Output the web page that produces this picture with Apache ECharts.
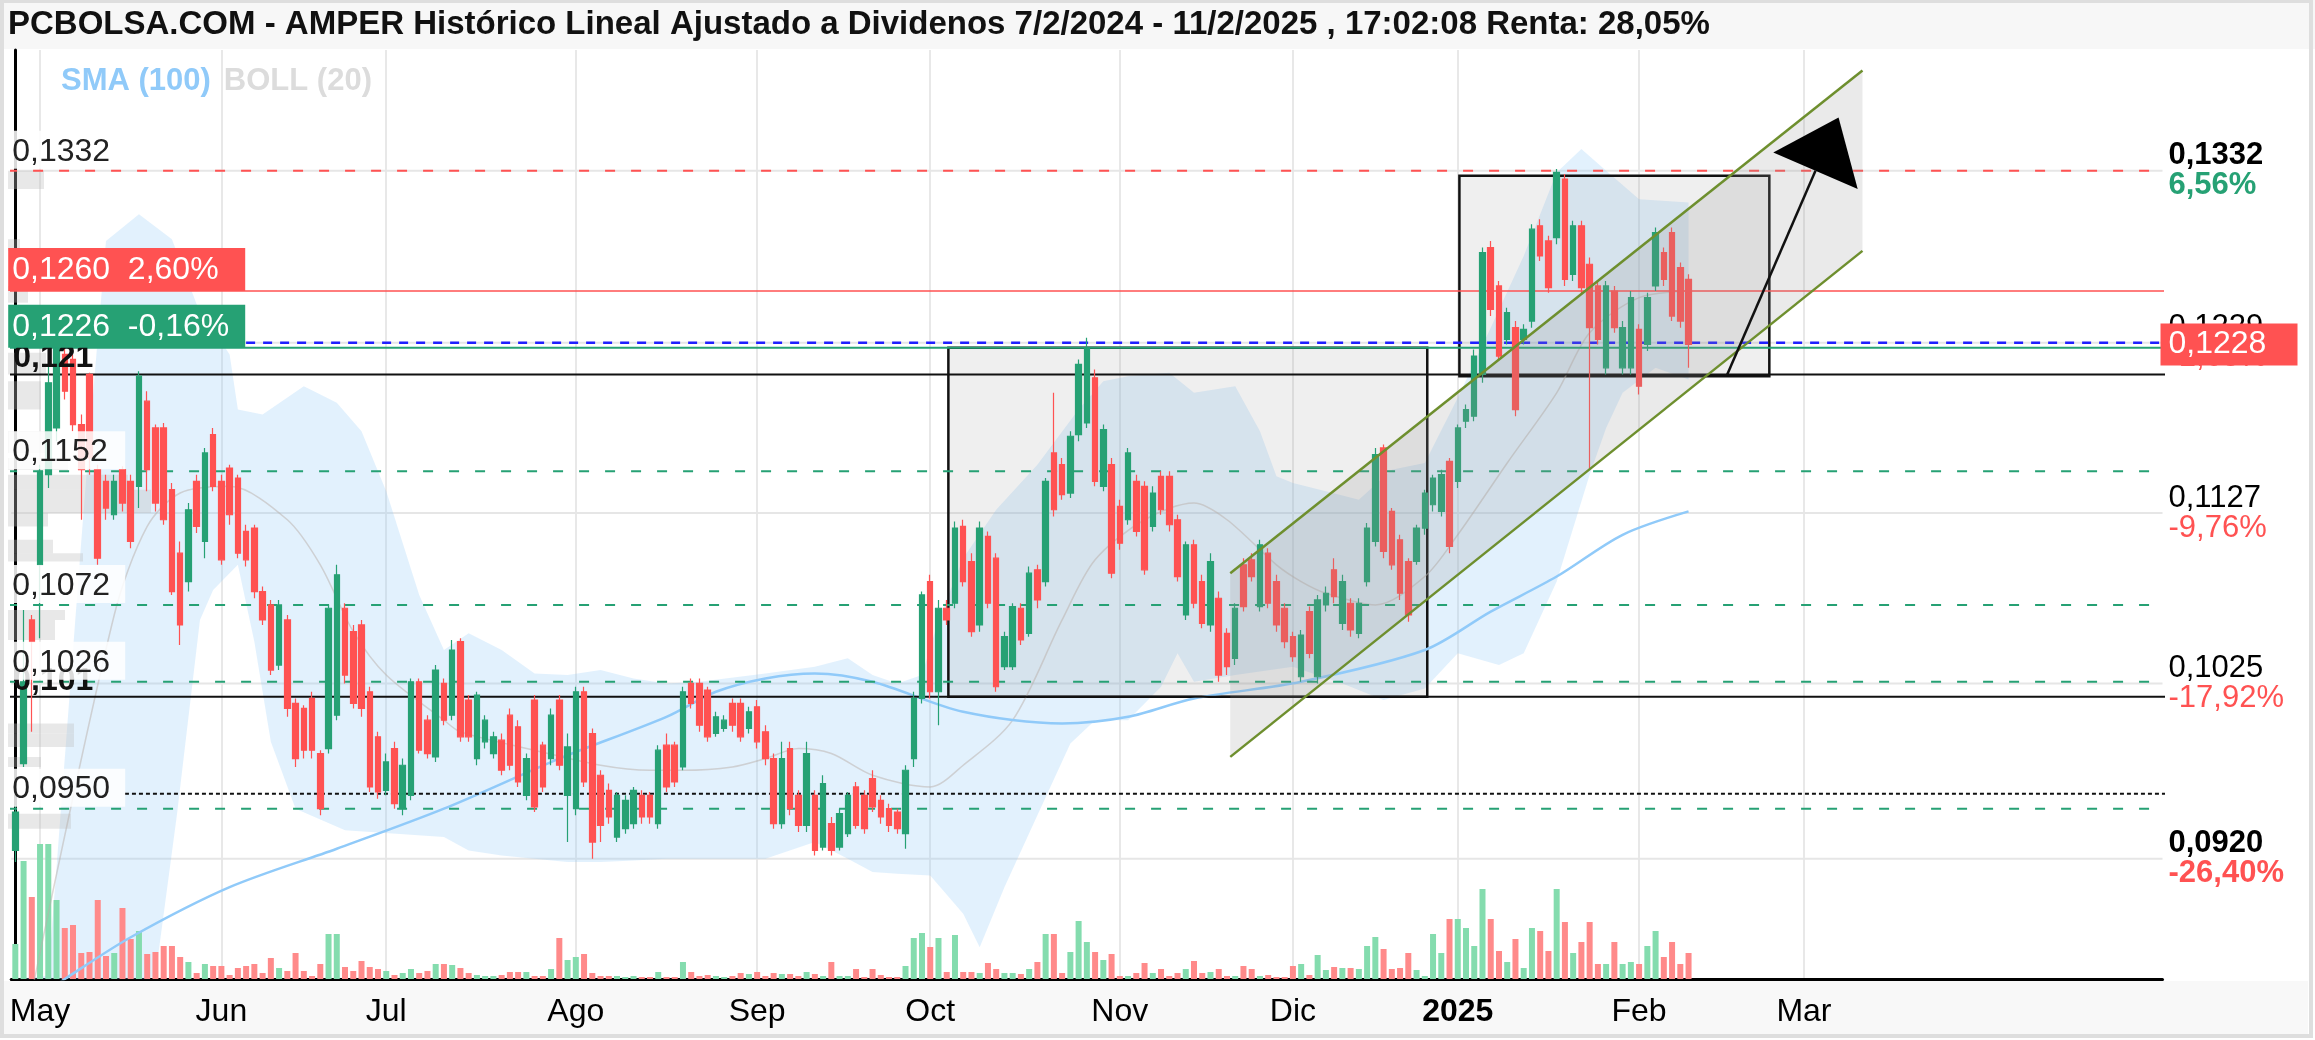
<!DOCTYPE html>
<html>
<head>
<meta charset="utf-8">
<script src="https://cdn.jsdelivr.net/npm/echarts@6/dist/echarts.min.js"></script>
<style>
  html, body { margin: 0; padding: 0; background: #fff; }
  #grafico { width: 2315px; height: 1040px; }
</style>
</head>
<body>
<div id="grafico"></div>
<script>
// sesiones: desde 26/4/2024, dias habiles de la bolsa espanola
const INICIO = '2024-04-26';
const N_SESIONES = 261;
const ULTIMO_MES = '2025-03';
const FESTIVOS = ['2024-05-01', '2024-12-25', '2024-12-26', '2025-01-01', '2025-04-18', '2025-04-21', '2025-05-01'];
const MESES = ['Ene', 'Feb', 'Mar', 'Abr', 'May', 'Jun', 'Jul', 'Ago', 'Sep', 'Oct', 'Nov', 'Dic'];

// velas (apertura, cierre, minimo, maximo)
const apertura = [
  .0925,.0977,.1063,.1096,.1150,.1178,.1222,.1219,.1180,.1210,
  .1153,.1146,.1126,.1153,.1146,.1143,.1194,.1178,.1178,.1141,
  .1103,.1086,.1146,.1110,.1174,.1146,.1154,.1148,.1116,.1118,
  .1080,.1072,.1036,.1063,.1013,.1010,.1016,.0983,.0986,.1006,
  .1070,.1056,.1060,.1020,.0993,.0961,.0986,.0950,.0958,.1026,
  .1003,.0981,.1025,.1006,.1050,.1015,.0980,.0990,.0983,.0991,
  .1006,.0999,.0958,.1015,.0988,.0980,.1015,.0958,.0950,.1020,
  .0995,.0970,.0961,.0933,.0938,.0941,.0958,.0958,.0941,.0988,
  .0988,.0975,.1025,.1025,.1021,.0995,.0998,.1013,.1013,.0998,
  .1011,.0996,.0980,.0941,.0986,.0958,.0940,.0958,.0927,.0941,
  .0927,.0935,.0963,.0958,.0968,.0955,.0950,.0948,.0935,.0980,
  .1016,.1086,.1020,.1070,.1073,.1119,.1098,.1060,.1113,.1100,
  .1035,.1035,.1070,.1055,.1093,.1086,.1163,.1156,.1139,.1174,
  .1181,.1208,.1143,.1156,.1131,.1123,.1146,.1143,.1119,.1149,
  .1149,.1123,.1066,.1108,.1086,.1060,.1076,.1055,.1040,.1096,
  .1099,.1071,.1103,.1086,.1070,.1053,.1029,.1068,.1029,.1072,
  .1093,.1061,.1073,.1055,.1086,.1110,.1166,.1128,.1111,.1098,
  .1098,.1118,.1132,.1128,.1158,.1146,.1182,.1185,.1210,.1286,
  .1263,.1231,.1238,.1231,.1242,.1299,.1290,.1292,.1327,.1270,
  .1299,.1276,.1263,.1214,.1260,.1214,.1214,.1237,.1228,.1263,
  .1283,.1295,.1274,.1267
];
const cierre = [
  .0948,.1026,.1050,.1152,.1205,.1226,.1200,.1180,.1153,.1160,
  .1100,.1130,.1146,.1133,.1110,.1209,.1153,.1133,.1123,.1080,
  .1060,.1129,.1119,.1163,.1143,.1099,.1126,.1103,.1099,.1080,
  .1063,.1033,.1072,.1010,.0980,.0985,.0985,.0950,.1070,.1090,
  .1030,.1013,.1010,.0963,.0960,.0978,.0953,.0976,.1026,.0985,
  .0983,.1033,.1003,.1045,.0993,.0993,.1018,.1003,.0993,.0973,
  .0976,.0966,.0980,.0951,.0963,.1006,.0976,.0987,.1020,.0966,
  .0930,.0940,.0945,.0958,.0955,.0961,.0945,.0945,.0985,.0963,
  .0966,.1020,.1013,.1000,.0993,.1005,.1003,.1000,.0993,.1008,
  .0990,.0980,.0941,.0980,.0950,.0940,.0983,.0925,.0965,.0925,
  .0947,.0958,.0940,.0938,.0951,.0945,.0940,.0938,.0973,.1016,
  .1078,.1020,.1070,.1063,.1118,.1086,.1056,.1118,.1073,.1023,
  .1053,.1071,.1051,.1091,.1075,.1146,.1129,.1138,.1173,.1216,
  .1226,.1146,.1177,.1091,.1109,.1163,.1116,.1093,.1139,.1129,
  .1120,.1089,.1108,.1073,.1061,.1098,.1030,.1035,.1070,.1071,
  .1089,.1108,.1073,.1060,.1050,.1041,.1054,.1043,.1075,.1079,
  .1077,.1086,.1057,.1073,.1118,.1162,.1104,.1096,.1079,.1066,
  .1118,.1139,.1148,.1150,.1107,.1178,.1189,.1221,.1283,.1249,
  .1221,.1247,.1189,.1237,.1297,.1281,.1262,.1331,.1267,.1299,
  .1262,.1238,.1231,.1263,.1238,.1238,.1256,.1203,.1256,.1295,
  .1267,.1245,.1242,.1228
];
const minimo = [
  .0918,.0975,.0996,.1052,.1142,.1170,.1195,.1176,.1123,.1150,
  .1096,.1123,.1123,.1128,.1106,.1130,.1140,.1128,.1120,.1078,
  .1048,.1080,.1115,.1100,.1140,.1096,.1120,.1100,.1095,.1076,
  .1060,.1030,.1033,.1005,.0975,.0980,.0980,.0946,.0983,.1003,
  .1025,.1010,.1005,.0960,.0956,.0958,.0950,.0946,.0955,.0983,
  .0980,.0978,.1000,.1003,.0990,.0990,.0976,.0986,.0980,.0970,
  .0973,.0963,.0955,.0948,.0960,.0976,.0973,.0930,.0946,.0963,
  .0920,.0930,.0941,.0930,.0935,.0938,.0941,.0941,.0938,.0960,
  .0963,.0973,.1010,.0996,.0990,.0993,.0996,.0996,.0990,.0995,
  .0986,.0976,.0938,.0938,.0946,.0936,.0936,.0922,.0925,.0922,
  .0925,.0933,.0938,.0935,.0948,.0941,.0936,.0935,.0926,.0975,
  .1013,.1016,.1000,.1060,.1070,.1083,.1053,.1056,.1070,.1020,
  .1033,.1033,.1048,.1053,.1070,.1083,.1125,.1135,.1136,.1170,
  .1178,.1143,.1140,.1088,.1105,.1120,.1113,.1090,.1116,.1126,
  .1116,.1086,.1063,.1070,.1058,.1056,.1026,.1030,.1036,.1068,
  .1086,.1068,.1070,.1056,.1046,.1038,.1026,.1040,.1025,.1068,
  .1073,.1057,.1053,.1052,.1083,.1107,.1100,.1093,.1075,.1062,
  .1096,.1114,.1128,.1125,.1103,.1142,.1178,.1182,.1205,.1245,
  .1218,.1228,.1185,.1228,.1238,.1278,.1259,.1288,.1263,.1266,
  .1258,.1153,.1228,.1210,.1235,.1210,.1210,.1198,.1224,.1260,
  .1263,.1242,.1238,.1214
];
const maximo = [
  .0952,.1069,.1066,.1156,.1215,.1228,.1228,.1222,.1186,.1211,
  .1156,.1150,.1150,.1155,.1150,.1212,.1200,.1180,.1181,.1145,
  .1110,.1133,.1150,.1166,.1178,.1150,.1156,.1150,.1120,.1120,
  .1083,.1075,.1075,.1066,.1016,.1012,.1020,.0985,.1072,.1096,
  .1073,.1060,.1063,.1023,.0996,.0983,.0990,.0980,.1028,.1028,
  .1006,.1036,.1028,.1051,.1052,.1018,.1020,.1006,.0996,.0995,
  .1010,.1003,.0983,.1018,.0990,.1010,.1018,.0995,.1023,.1023,
  .0998,.0973,.0965,.0960,.0958,.0963,.0961,.0960,.0988,.0995,
  .0990,.1023,.1028,.1028,.1023,.1008,.1006,.1016,.1016,.1011,
  .1015,.1000,.0983,.0990,.0990,.0961,.0990,.0961,.0970,.0945,
  .0950,.0960,.0966,.0961,.0973,.0958,.0953,.0950,.0976,.1020,
  .1080,.1090,.1075,.1075,.1122,.1123,.1103,.1122,.1116,.1103,
  .1056,.1073,.1073,.1095,.1096,.1148,.1199,.1160,.1176,.1219,
  .1232,.1213,.1180,.1160,.1135,.1166,.1150,.1146,.1143,.1152,
  .1152,.1126,.1110,.1111,.1090,.1103,.1080,.1058,.1073,.1100,
  .1103,.1111,.1106,.1090,.1073,.1056,.1057,.1071,.1078,.1083,
  .1100,.1090,.1076,.1076,.1121,.1166,.1168,.1130,.1114,.1100,
  .1120,.1141,.1150,.1153,.1160,.1180,.1192,.1225,.1286,.1290,
  .1266,.1250,.1242,.1240,.1300,.1303,.1293,.1333,.1330,.1302,
  .1302,.1280,.1266,.1266,.1263,.1242,.1260,.1240,.1259,.1298,
  .1286,.1298,.1277,.1270
];
// volumen (miles de titulos, estimado)
const volumen = [
  350,1180,820,1350,1350,790,510,540,260,270,
  790,230,260,710,400,480,250,270,330,330,
  220,170,60,150,130,130,40,110,130,150,
  60,210,110,80,260,80,30,150,450,450,
  120,80,180,120,100,80,40,60,100,60,
  80,150,150,140,110,60,40,30,30,40,
  70,70,70,30,30,100,410,190,220,250,
  60,30,30,30,20,30,20,20,70,20,
  20,170,70,30,40,30,20,30,60,50,
  70,30,60,50,50,30,70,50,30,170,
  30,30,100,20,100,40,20,20,130,410,
  460,320,410,70,440,70,70,60,160,100,
  60,60,50,100,170,450,450,60,270,580,
  370,270,190,250,30,30,60,160,60,100,
  30,60,100,180,60,70,100,30,30,130,
  100,30,40,20,20,130,150,40,240,90,
  120,110,110,100,330,420,300,100,110,260,
  90,30,450,260,600,600,510,330,900,600,
  280,170,400,110,510,480,280,900,570,260,
  370,570,150,150,370,150,170,150,330,480,
  220,370,150,260
];

// bandas de Bollinger (20) y media (100): [sesion, valor]
const bollSup = [[0,.0790],[4,.0850],[6,.0980],[8,.1110],[9,.1173],[11,.1290],[15,.1306],[19,.1291],[22,.1252],[26,.1222],[27,.1189],[30,.1186],[35,.1203],[39,.1193],[42,.1176],[45,.1140],[49,.1078],[52,.1045],[55,.1055],[59,.1045],[63,.1031],[67,.1030],[71,.1033],[75,.1028],[79,.1025],[83,.1026],[91,.1031],[97,.1035],[101,.1040],[104,.1030],[107,.1025],[110,.1030],[112,.1063],[115,.1100],[119,.1129],[124,.1156],[129,.1189],[132,.1206],[135,.1209],[140,.1211],[143,.1199],[148,.1203],[151,.1176],[153,.1149],[155,.1145],[159,.1140],[163,.1135],[167,.1153],[171,.1157],[175,.1196],[179,.1238],[183,.1281],[187,.1331],[190,.1345],[193,.1332],[197,.1315],[203,.1313]];
const bollInf = [[0,.0760],[16,.0830],[17,.0850],[19.6,.0946],[22.4,.1063],[24,.1081],[27,.1096],[29,.1050],[31,.0990],[34,.0950],[40,.0937],[52,.0933],[55,.0925],[59,.0922],[63,.0920],[67,.0918],[71,.0918],[75,.0919],[79,.0920],[83,.0920],[91,.0920],[97,.0930],[101,.0920],[104,.0912],[107,.0911],[111,.0910],[115,.0887],[117,.0867],[120,.0903],[124,.0946],[128,.0989],[131,.1003],[135,.1003],[139,.1023],[141,.1043],[143,.1026],[148,.1030],[155,.1035],[161,.1025],[166,.1015],[171,.1022],[175,.1043],[180,.1036],[183,.1043],[187,.1086],[191,.1150],[193,.1178],[195,.1199],[199,.1214],[203,.1207]];
const bollMed = [[2,.0840],[12,.1066],[16,.1119],[20,.1139],[26,.1143],[33,.1123],[37,.1096],[41,.1056],[45,.1030],[52,.1003],[54,.0996],[63,.0985],[71,.0976],[77,.0973],[81,.0973],[87,.0975],[91,.0980],[95,.0986],[99,.0983],[104,.0970],[111,.0963],[115,.0976],[121,.1003],[127,.1063],[131,.1099],[137,.1123],[143,.1133],[147,.1123],[153,.1096],[156,.1086],[159,.1079],[165,.1072],[171,.1089],[175,.1114],[181,.1157],[187,.1199],[191,.1235],[197,.1256],[203,.1260]];
const sma100 = [[3,.0838],[6,.0848],[14,.0873],[26,.0903],[39,.0926],[52,.0950],[66,.0980],[79,.1005],[85,.1020],[91,.1028],[97,.1031],[104,.1026],[115,.1008],[127,.1001],[135,.1005],[143,.1016],[156,.1026],[171,.1045],[179,.1068],[187,.1089],[195,.1114],[203,.1128]];

// niveles horizontales
const nivelMax = 0.1332, nivelObjetivo = 0.1260, nivelAzul = 0.1229, nivelSoporte = 0.1226;
const techoRango = 0.1210, sueloRango = 0.1017, nivelPunteado = 0.0959;
const nivelesVerdes = [0.1152, 0.1072, 0.1026, 0.0950];

// eje de precios (derecha)
const ejeValores = [0.1332, 0.1229, 0.1127, 0.1025, 0.0920];
const ejePct = ['6,56%', '-1,68%', '-9,76%', '-17,92%', '-26,40%'];

// perfil de volumen: [desde, hasta, volumen]
const perfilDesde = [.1321,.1284,.1253,.1210,.1189,.1163,.1153,.1141,.1127,.1119,.1103,.1098,.1063,.1051,.0995,.0987,.0975,.0938];
const perfilHasta = [.1332,.1291,.1263,.1223,.1206,.1176,.1160,.1150,.1141,.1127,.1111,.1103,.1069,.1063,.1001,.0995,.0981,.0947];
const perfilVol   = [36,12,20,38,33,38,60,120,143,40,45,75,57,47,66,66,33,63];

// dibujos: rectangulos, canal y flecha
const cajaIni = [113.2, 175.2], cajaFin = [171.3, 212.8];
const cajaMin = [0.1017, 0.1209], cajaMax = [0.1226, 0.1329];
const canalX = [147.4, 224.1], canalSup = [0.1091, 0.1392], canalInf = [0.0981, 0.1284];
const flechaX = [207.6, 218.4], flechaY = [0.1209, 0.1332];

const FUENTE = "'Liberation Sans', Arial, sans-serif";
const VERDE = '#26a174', ROJO = '#ff5252';
const Y_MIN = 0.0848, Y_MAX = 0.14043;

function sesiones(inicio, n) {
  const out = [];
  const d = new Date(inicio + 'T12:00:00Z');
  while (out.length < n) {
    const dia = d.getUTCDay();
    const s = d.toISOString().slice(0, 10);
    if (dia !== 0 && dia !== 6 && FESTIVOS.indexOf(s) < 0) out.push(s);
    d.setUTCDate(d.getUTCDate() + 1);
  }
  return out;
}
const fechas = sesiones(INICIO, N_SESIONES);
const X_IZQ = -0.5, X_DER = N_SESIONES - 0.5;
const fmt = v => v.toFixed(4).replace('.', ',');
const esInicioMes = (idx) => idx > 0 && fechas[idx].slice(0, 7) <= ULTIMO_MES &&
  fechas[idx].slice(5, 7) !== fechas[idx - 1].slice(5, 7);

const velas = apertura.map((o, i) => [o, cierre[i], minimo[i], maximo[i]]);
const barrasVol = volumen.map((v, i) => ({
  value: v,
  itemStyle: { color: cierre[i] >= apertura[i] ? '#84dcae' : '#ff8a8a' }
}));

function nivel(v, desde, estilo) {
  return {
    type: 'line', xAxisIndex: 1, yAxisIndex: 0, silent: true, symbol: 'none', z: 4,
    data: [[desde, v], [N_SESIONES, v]], lineStyle: estilo
  };
}

const grafico = echarts.init(document.getElementById('grafico'), null, { renderer: 'canvas' });

grafico.setOption({
  animation: false,
  backgroundColor: '#fff',
  graphic: [
    { type: 'rect', shape: { x: 0, y: 0, width: 2315, height: 49 }, style: { fill: '#f7f7f7' }, z: -10 },
    { type: 'rect', shape: { x: 4, y: 981, width: 2304, height: 53 }, style: { fill: '#f8f8f8' }, z: -10 },
    { type: 'rect', shape: { x: 2, y: 1, width: 2309, height: 1035 }, style: { fill: null, stroke: '#dedede', lineWidth: 4 }, z: -9 }
  ],
  title: {
    text: 'PCBOLSA.COM - AMPER Histórico Lineal Ajustado a Dividenos 7/2/2024 - 11/2/2025 , 17:02:08 Renta: 28,05%',
    left: 8, top: 8, padding: 0,
    textStyle: { fontSize: 33, fontWeight: 'bold', color: '#111', fontFamily: FUENTE }
  },
  legend: {
    left: 51, top: 61, icon: 'none', itemWidth: 0, itemGap: 8, selectedMode: false,
    textStyle: { fontSize: 31, fontWeight: 'bold', fontFamily: FUENTE },
    data: [
      { name: 'SMA (100)', textStyle: { color: '#90caf9' } },
      { name: 'BOLL (20)', textStyle: { color: '#dcdcdc' } }
    ]
  },
  grid: [
    { left: 11.2, right: 152.5, top: 50, bottom: 61, outerBoundsMode: 'none' },
    { left: 11.2, right: 152.5, top: 50, bottom: 61, outerBoundsMode: 'none' },
    { left: 8, width: 300, top: 50, bottom: 61, outerBoundsMode: 'none' }
  ],
  xAxis: [
    {
      type: 'category', gridIndex: 0, data: fechas, boundaryGap: true,
      axisLine: { lineStyle: { color: '#000', width: 3 } },
      axisTick: { show: false },
      splitLine: { show: true, interval: esInicioMes, alignWithLabel: true, lineStyle: { color: '#e8e8e8', width: 2 } },
      axisLabel: {
        interval: esInicioMes, margin: 17, fontSize: 32, color: '#000', fontFamily: FUENTE,
        formatter: (v) => {
          const m = +v.slice(5, 7);
          return m === 1 ? '{y|' + v.slice(0, 4) + '}' : MESES[m - 1];
        },
        rich: { y: { fontSize: 32, fontWeight: 'bold', color: '#000', fontFamily: FUENTE } }
      }
    },
    { type: 'value', gridIndex: 0, min: X_IZQ, max: X_DER, show: false },
    { type: 'category', gridIndex: 1, data: fechas, show: false },
    { type: 'value', gridIndex: 2, min: 0, max: 300, show: false }
  ],
  yAxis: [
    {
      type: 'value', gridIndex: 0, position: 'right', min: Y_MIN, max: Y_MAX, scale: true,
      axisLine: { show: true, lineStyle: { color: '#000', width: 3 } },
      axisTick: { show: false }, axisLabel: { show: false }, splitLine: { show: false }
    },
    { type: 'value', gridIndex: 1, min: 0, max: 9290, show: false },
    { type: 'value', gridIndex: 2, min: Y_MIN, max: Y_MAX, show: false }
  ],
  series: [
    // rejilla horizontal
    {
      type: 'custom', xAxisIndex: 1, yAxisIndex: 0, silent: true, z: 0,
      data: ejeValores.map(v => [0, v]),
      renderItem: (params, api) => {
        const a = api.coord([X_IZQ, api.value(1)]), b = api.coord([X_DER, api.value(1)]);
        return { type: 'line', shape: { x1: a[0], y1: a[1], x2: b[0], y2: b[1] }, style: { stroke: '#e6e6e6', lineWidth: 2 } };
      }
    },
    // banda de Bollinger
    {
      type: 'custom', xAxisIndex: 1, yAxisIndex: 0, silent: true, clip: true, z: 1,
      data: [[0, 0.1]],
      renderItem: (params, api) => {
        const cs = params.coordSys;
        const pts = bollSup.map(p => api.coord(p)).concat(bollInf.slice().reverse().map(p => api.coord(p)));
        return {
          type: 'polygon',
          shape: { points: echarts.graphic.clipPointsByRect(pts, { x: cs.x, y: cs.y, width: cs.width, height: cs.height }) },
          style: { fill: 'rgba(144,202,249,0.26)' }
        };
      }
    },
    // perfil de volumen
    {
      type: 'custom', xAxisIndex: 3, yAxisIndex: 2, silent: true, z: 2,
      data: perfilVol.map((v, i) => [v, perfilDesde[i], perfilHasta[i]]),
      renderItem: (params, api) => {
        const a = api.coord([0, api.value(2)]), b = api.coord([api.value(0), api.value(1)]);
        return { type: 'rect', shape: { x: a[0], y: a[1], width: b[0] - a[0], height: b[1] - a[1] }, style: { fill: 'rgba(190,190,190,0.35)' } };
      }
    },
    // rectangulos
    {
      type: 'custom', xAxisIndex: 1, yAxisIndex: 0, silent: true, z: 2,
      data: cajaIni.map((x, i) => [x, cajaMax[i], cajaFin[i], cajaMin[i]]),
      renderItem: (params, api) => {
        const a = api.coord([api.value(0), api.value(1)]), b = api.coord([api.value(2), api.value(3)]);
        return { type: 'rect', shape: { x: a[0], y: a[1], width: b[0] - a[0], height: b[1] - a[1] }, style: { fill: 'rgba(140,140,140,0.14)', stroke: '#111', lineWidth: 2.5 } };
      }
    },
    // canal alcista
    {
      type: 'custom', xAxisIndex: 1, yAxisIndex: 0, silent: true, z: 6,
      data: [[0, 0.1]],
      renderItem: (params, api) => {
        const a1 = api.coord([canalX[0], canalSup[0]]), a2 = api.coord([canalX[1], canalSup[1]]);
        const b1 = api.coord([canalX[0], canalInf[0]]), b2 = api.coord([canalX[1], canalInf[1]]);
        return {
          type: 'group', children: [
            { type: 'polygon', shape: { points: [a1, a2, b2, b1] }, style: { fill: 'rgba(150,150,150,0.2)' } },
            { type: 'line', shape: { x1: a1[0], y1: a1[1], x2: a2[0], y2: a2[1] }, style: { stroke: '#6e8f2e', lineWidth: 2.5 } },
            { type: 'line', shape: { x1: b1[0], y1: b1[1], x2: b2[0], y2: b2[1] }, style: { stroke: '#6e8f2e', lineWidth: 2.5 } }
          ]
        };
      }
    },
    // volumen
    {
      type: 'bar', xAxisIndex: 2, yAxisIndex: 1, data: barrasVol, barWidth: 6, silent: true, z: 3
    },
    // medias
    {
      name: 'BOLL (20)', type: 'line', xAxisIndex: 1, yAxisIndex: 0, data: bollMed, smooth: 0.3,
      symbol: 'none', silent: true, z: 3, lineStyle: { color: 'rgba(185,175,170,0.5)', width: 1.5 }
    },
    {
      name: 'SMA (100)', type: 'line', xAxisIndex: 1, yAxisIndex: 0, data: sma100, smooth: 0.3,
      symbol: 'none', silent: true, z: 3, lineStyle: { color: '#90caf9', width: 2.5 }
    },
    // niveles
    nivel(nivelMax, -1, { color: ROJO, width: 2, type: [10, 16] }),
    nivel(nivelObjetivo, -1, { color: ROJO, width: 1.5 }),
    nivel(nivelSoporte, -1, { color: VERDE, width: 2 }),
    nivel(nivelAzul, 28, { color: '#1f1fff', width: 2.5, type: [9, 8] }),
    nivel(techoRango, -1, { color: '#111', width: 2 }),
    nivel(sueloRango, -1, { color: '#111', width: 2 }),
    nivel(nivelPunteado, 13.3, { color: '#111', width: 2, type: [4, 3] }),
    ...nivelesVerdes.map(v => nivel(v, -1, { color: VERDE, width: 2, type: [10, 16] })),
    // velas
    {
      type: 'candlestick', xAxisIndex: 0, yAxisIndex: 0, data: velas, barWidth: 6, silent: true, z: 5,
      itemStyle: { color: VERDE, color0: ROJO, borderColor: VERDE, borderColor0: ROJO, borderWidth: 1.2 }
    },
    // flecha
    {
      type: 'custom', xAxisIndex: 1, yAxisIndex: 0, silent: true, z: 6,
      data: [[0, 0.1]],
      renderItem: (params, api) => {
        const p0 = api.coord([flechaX[0], flechaY[0]]), p1 = api.coord([flechaX[1], flechaY[1]]);
        const dx = p1[0] - p0[0], dy = p1[1] - p0[1], L = Math.hypot(dx, dy);
        const ux = dx / L, uy = dy / L, nx = -uy, ny = ux;
        const punta = [p1[0] + ux * 58, p1[1] + uy * 58];
        return {
          type: 'group', children: [
            { type: 'line', shape: { x1: p0[0], y1: p0[1], x2: p1[0], y2: p1[1] }, style: { stroke: '#111', lineWidth: 2.5 } },
            { type: 'polygon', shape: { points: [punta, [p1[0] + nx * 46, p1[1] + ny * 46], [p1[0] - nx * 46, p1[1] - ny * 46]] }, style: { fill: '#000' } }
          ]
        };
      }
    },
    // etiquetas ocultas bajo las cajas (izquierda)
    {
      type: 'custom', xAxisIndex: 1, yAxisIndex: 0, silent: true, z: 8,
      data: [[0, techoRango], [0, sueloRango]],
      renderItem: (params, api) => {
        const p = api.coord([X_IZQ, api.value(1)]);
        return { type: 'text', style: { text: fmt(api.value(1)).slice(0, 5), x: p[0] + 2, y: p[1] - 16, fill: '#111', fontSize: 32, fontWeight: 'bold', fontFamily: FUENTE, verticalAlign: 'middle' } };
      }
    },
    // etiquetas izquierda
    {
      type: 'custom', xAxisIndex: 1, yAxisIndex: 0, silent: true, z: 9,
      data: [nivelMax].concat(nivelesVerdes).map(v => [0, v]),
      renderItem: (params, api) => {
        const p = api.coord([X_IZQ, api.value(1)]);
        return {
          type: 'group', children: [
            { type: 'rect', shape: { x: p[0] - 3, y: p[1] - 40, width: 117, height: 38 }, style: { fill: 'rgba(255,255,255,0.85)' } },
            { type: 'text', style: { text: fmt(api.value(1)), x: p[0] + 1, y: p[1] - 19, fill: '#222', fontSize: 32, fontFamily: FUENTE, verticalAlign: 'middle' } }
          ]
        };
      }
    },
    {
      type: 'custom', xAxisIndex: 1, yAxisIndex: 0, silent: true, z: 10,
      data: [[0, nivelObjetivo], [1, nivelSoporte]],
      renderItem: (params, api) => {
        const p = api.coord([X_IZQ, api.value(1)]);
        const pct = params.dataIndex === 0 ? '2,60%' : '-0,16%';
        return {
          type: 'group', children: [
            { type: 'rect', shape: { x: p[0] - 3, y: p[1] - 43, width: 237, height: 43 }, style: { fill: params.dataIndex === 0 ? ROJO : VERDE } },
            { type: 'text', style: { text: fmt(api.value(1)) + '  ' + pct, x: p[0] + 1, y: p[1] - 21, fill: '#fff', fontSize: 32, fontFamily: FUENTE, verticalAlign: 'middle' } }
          ]
        };
      }
    },
    // etiquetas eje derecho
    {
      type: 'custom', xAxisIndex: 1, yAxisIndex: 0, silent: true, z: 10,
      data: ejeValores.map(v => [0, v]),
      renderItem: (params, api) => {
        const k = params.dataIndex, v = api.value(1);
        const p = api.coord([X_DER, v]);
        const negrita = (k === 0 || k === ejeValores.length - 1) ? 'bold' : 'normal';
        const colorPct = ejePct[k].charAt(0) === '-' ? ROJO : VERDE;
        return {
          type: 'group', children: [
            { type: 'text', style: { text: fmt(v), x: p[0] + 6, y: p[1] - 15, fill: '#000', fontSize: 31, fontWeight: negrita, fontFamily: FUENTE, verticalAlign: 'middle' } },
            { type: 'text', style: { text: ejePct[k], x: p[0] + 6, y: p[1] + 15, fill: colorPct, fontSize: 31, fontWeight: negrita, fontFamily: FUENTE, verticalAlign: 'middle' } }
          ]
        };
      }
    },
    // ultimo precio
    {
      type: 'custom', xAxisIndex: 1, yAxisIndex: 0, silent: true, z: 11,
      data: [[0, cierre[cierre.length - 1]]],
      renderItem: (params, api) => {
        const p = api.coord([X_DER, api.value(1)]);
        return {
          type: 'group', children: [
            { type: 'rect', shape: { x: p[0] - 2, y: p[1] - 21, width: 137, height: 42 }, style: { fill: ROJO } },
            { type: 'text', style: { text: fmt(api.value(1)), x: p[0] + 6, y: p[1], fill: '#fff', fontSize: 32, fontFamily: FUENTE, verticalAlign: 'middle' } }
          ]
        };
      }
    }
  ]
});
</script>
</body>
</html>
